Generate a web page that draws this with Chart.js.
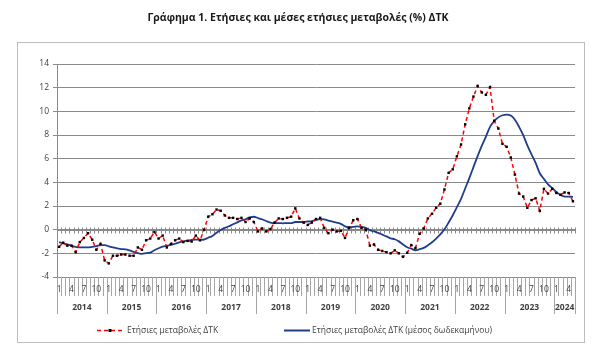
<!DOCTYPE html>
<html>
<head>
<meta charset="utf-8">
<script src="https://cdn.jsdelivr.net/npm/chart.js@4.4.1/dist/chart.umd.min.js"></script>
<style>
  body { margin: 0; background: #fff; }
</style>
</head>
<body>
<canvas id="myChart" width="600" height="363"></canvas>
<script>
// years on the axis (2024 only to May)
const years = ['2014', '2015', '2016', '2017', '2018', '2019', '2020', '2021', '2022', '2023', '2024'];
const monthTicks = ['1', '4', '7', '10'];
const yTicks = [-4, -2, 0, 2, 4, 6, 8, 10, 12, 14];

// Ετήσιες μεταβολές ΔΤΚ, Jan 2014 - May 2024
const annualChange = [
  -1.45, -1.1, -1.35, -1.35, -1.9, -1.05, -0.7, -0.3, -0.85, -1.7, -1.2, -2.6,
  -2.85, -2.2, -2.2, -2.1, -2.1, -2.2, -2.2, -1.5, -1.7, -0.9, -0.75, -0.2,
  -0.75, -0.5, -1.5, -1.2, -0.9, -0.75, -1.05, -0.95, -1.0, -0.5, -0.9, 0.0,
  1.1, 1.3, 1.7, 1.6, 1.2, 1.0, 1.0, 0.9, 1.0, 0.65, 0.95, 0.65,
  -0.15, 0.1, -0.15, 0.05, 0.6, 0.95, 0.9, 1.0, 1.1, 1.8, 0.95, 0.6,
  0.4, 0.6, 0.9, 1.0, 0.15, -0.3, 0.0, -0.15, -0.1, -0.7, 0.15, 0.8,
  0.9, 0.15, 0.0, -1.35, -1.25, -1.7, -1.8, -1.9, -2.0, -1.75, -2.0, -2.3,
  -1.95, -1.3, -1.55, -0.35, 0.1, 0.95, 1.35, 1.85, 2.2, 3.4, 4.8, 5.1,
  6.2, 7.2, 8.9, 10.25, 11.25, 12.15, 11.6, 11.4, 12.05, 9.2, 8.55, 7.25,
  7.0, 6.1, 4.65, 3.05, 2.8, 1.85, 2.5, 2.65, 1.6, 3.45, 3.05, 3.45,
  3.1, 2.95, 3.15, 3.1, 2.4
];

// Ετήσιες μεταβολές ΔΤΚ (μέσος δωδεκαμήνου)
const avgChange = [
  -1.05, -1.15, -1.25, -1.35, -1.45, -1.5, -1.5, -1.5, -1.45, -1.4, -1.3, -1.3,
  -1.41, -1.5, -1.58, -1.64, -1.66, -1.75, -1.88, -1.98, -2.05, -1.98, -1.94, -1.74,
  -1.57, -1.43, -1.37, -1.29, -1.19, -1.07, -0.98, -0.93, -0.87, -0.84, -0.85, -0.83,
  -0.68, -0.53, -0.26, -0.03, 0.15, 0.29, 0.46, 0.62, 0.78, 0.88, 1.03, 1.09,
  0.98, 0.88, 0.73, 0.6, 0.55, 0.55, 0.54, 0.55, 0.55, 0.65, 0.65, 0.65,
  0.69, 0.73, 0.82, 0.9, 0.86, 0.76, 0.68, 0.59, 0.49, 0.28, 0.21, 0.23,
  0.27, 0.23, 0.16, -0.04, -0.15, -0.27, -0.42, -0.57, -0.73, -0.81, -0.99, -1.25,
  -1.49, -1.61, -1.74, -1.65, -1.54, -1.32, -1.06, -0.75, -0.4, 0.03, 0.6, 1.22,
  1.9, 2.6, 3.48, 4.36, 5.29, 6.22, 7.08, 7.87, 8.69, 9.18, 9.49, 9.67,
  9.73, 9.64, 9.29, 8.69, 7.98, 7.13, 6.37, 5.64, 4.77, 4.29, 3.83, 3.51,
  3.19, 2.93, 2.8, 2.8, 2.77
];

const title = 'Γράφημα 1. Ετήσιες και μέσες ετήσιες μεταβολές (%) ΔΤΚ';
const legendRed = 'Ετήσιες μεταβολές ΔΤΚ';
const legendBlue = 'Ετήσιες μεταβολές ΔΤΚ (μέσος δωδεκαμήνου)';

// category labels "year-month"
let labels = [];
annualChange.forEach(function (v, i) {
  labels.push(years[Math.floor(i / 12)] + '-' + (i % 12 + 1));
});

const FONT = '"Open Sans", "DejaVu Sans", sans-serif';
const gridColor = '#8a8a8a';
const sepColor = '#a6a6a6';

// box, title, zero axis, two-level axis labels, legend
const framePlugin = {
  id: 'frame',
  beforeDraw(chart) {
    const ctx = chart.ctx;
    ctx.save();
    ctx.fillStyle = '#fff';
    ctx.fillRect(0, 0, chart.width, chart.height);
    ctx.strokeStyle = '#bdbdbd';
    ctx.lineWidth = 1;
    ctx.strokeRect(17.5, 42.5, 567, 300);
    ctx.fillStyle = '#1a1a1a';
    ctx.font = 'bold 10.5px ' + FONT;
    ctx.textAlign = 'center';
    ctx.textBaseline = 'middle';
    ctx.fillText(title, 298, 18);
    ctx.restore();
  },
  beforeDatasetsDraw(chart) {
    // category axis crossing at 0, with cross tick marks
    const ctx = chart.ctx;
    const x = chart.scales.x;
    const area = chart.chartArea;
    const y0 = Math.round(chart.scales.y.getPixelForValue(0)) + 0.5;
    const step = (area.right - area.left) / labels.length;
    ctx.save();
    ctx.strokeStyle = gridColor;
    ctx.lineWidth = 1;
    ctx.beginPath();
    ctx.moveTo(area.left, y0);
    ctx.lineTo(area.right, y0);
    for (let i = 0; i <= labels.length; i++) {
      let px = Math.round(x.getPixelForValue(i) - step / 2) + 0.5;
      ctx.moveTo(px, y0 - 3);
      ctx.lineTo(px, y0 + 3);
    }
    ctx.stroke();
    ctx.restore();
  },
  afterDraw(chart) {
    const ctx = chart.ctx;
    const x = chart.scales.x;
    const area = chart.chartArea;
    const bottom = area.bottom;
    const step = (area.right - area.left) / labels.length;
    ctx.save();
    ctx.strokeStyle = sepColor;
    ctx.lineWidth = 1;
    ctx.beginPath();
    for (let i = 0; i <= labels.length; i++) {
      let px = Math.round(x.getPixelForValue(i) - step / 2) + 0.5;
      let long = (i % 12 === 0) || i === labels.length;
      ctx.moveTo(px, bottom);
      ctx.lineTo(px, bottom + (long ? 37 : 19));
    }
    ctx.stroke();

    // month labels
    ctx.fillStyle = '#404040';
    ctx.font = '8.5px ' + FONT;
    ctx.textAlign = 'center';
    ctx.textBaseline = 'middle';
    labels.forEach(function (lab, i) {
      let m = String(i % 12 + 1);
      if (monthTicks.indexOf(m) >= 0) {
        ctx.fillText(m, x.getPixelForValue(i), bottom + 13);
      }
    });
    // year labels
    ctx.font = 'bold 8.5px ' + FONT;
    years.forEach(function (yr, k) {
      let first = k * 12;
      let last = Math.min(first + 11, labels.length - 1);
      let cx = (x.getPixelForValue(first) + x.getPixelForValue(last)) / 2;
      ctx.fillText(yr, cx, bottom + 31);
    });

    // legend
    const ly = 330.5;
    ctx.strokeStyle = '#ff0000';
    ctx.lineWidth = 1.5;
    ctx.setLineDash([4, 3]);
    ctx.beginPath();
    ctx.moveTo(97, ly);
    ctx.lineTo(124, ly);
    ctx.stroke();
    ctx.setLineDash([]);
    ctx.fillStyle = '#000';
    ctx.fillRect(108.5, ly - 1.5, 3, 3);
    ctx.strokeStyle = '#1f3d8a';
    ctx.lineWidth = 2;
    ctx.beginPath();
    ctx.moveTo(284, ly);
    ctx.lineTo(310, ly);
    ctx.stroke();
    ctx.fillStyle = '#404040';
    ctx.font = '8.5px ' + FONT;
    ctx.textAlign = 'left';
    ctx.fillText(legendRed, 127, ly);
    ctx.fillText(legendBlue, 312, ly);
    ctx.restore();
  }
};

const ctx = document.getElementById('myChart').getContext('2d');
const chart = new Chart(ctx, {
  type: 'line',
  data: {
    labels: labels,
    datasets: [{
      label: legendRed,
      data: annualChange,
      borderColor: '#ff0000',
      borderWidth: 1.5,
      borderDash: [4, 3],
      pointStyle: 'rect',
      pointRadius: 1.7,
      pointBackgroundColor: '#000',
      pointBorderColor: '#000',
      pointBorderWidth: 0,
      tension: 0
    }, {
      label: legendBlue,
      data: avgChange,
      borderColor: '#1f3d8a',
      borderWidth: 1.8,
      pointRadius: 0,
      cubicInterpolationMode: 'monotone'
    }]
  },
  options: {
    responsive: false,
    animation: false,
    devicePixelRatio: 1,
    layout: { padding: { left: 0, top: 64, right: 25, bottom: 86 } },
    plugins: {
      legend: { display: false },
      tooltip: { enabled: false }
    },
    scales: {
      x: {
        type: 'category',
        offset: true,
        display: false
      },
      y: {
        min: -4,
        max: 14,
        afterFit: function (scale) { scale.width = 57; },
        afterBuildTicks: function (scale) {
          scale.ticks = yTicks.map(function (v) { return { value: v }; });
        },
        ticks: {
          color: '#404040',
          font: { family: FONT, size: 8.5 },
          padding: 4
        },
        grid: { color: gridColor, tickLength: 4 },
        border: { color: gridColor }
      }
    }
  },
  plugins: [framePlugin]
});
</script>
</body>
</html>
